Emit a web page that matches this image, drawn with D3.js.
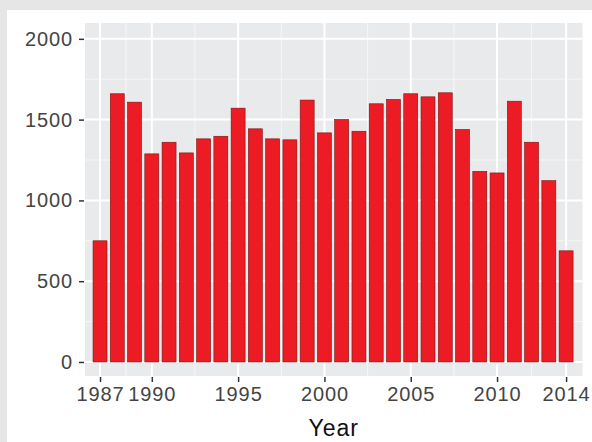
<!DOCTYPE html>
<html>
<head>
<meta charset="utf-8">
<script src="https://cdn.jsdelivr.net/npm/d3@7"></script>
<style>
  html, body { margin: 0; padding: 0; background: #e6e6e6; }
  svg { display: block; }
  .tick text { font-family: "Liberation Sans", Arial, sans-serif; }
</style>
</head>
<body>
<script>
// counts per year
var years = d3.range(1987, 2015);
var counts = [750, 1660, 1608, 1288, 1360, 1294, 1381, 1397, 1571, 1443,
              1381, 1375, 1621, 1418, 1501, 1428, 1598, 1625, 1660, 1641,
              1666, 1439, 1180, 1170, 1614, 1360, 1122, 688];
var xBreaks = [1987, 1990, 1995, 2000, 2005, 2010, 2014];
var xMinor = [1988.5, 1992.5, 1997.5, 2002.5, 2007.5, 2012];
var yBreaks = [0, 500, 1000, 1500, 2000];
var yMinor = [250, 750, 1250, 1750];

var data = years.map(function (y, i) { return { year: y, n: counts[i] }; });

var w = 592, h = 442,
    panel = { left: 85, right: 582.5, top: 23, bottom: 376 };

var svg = d3.select("body").append("svg")
    .attr("width", w)
    .attr("height", h);

// white plot area inside the grey frame
svg.append("rect")
    .attr("x", 7).attr("y", 10)
    .attr("width", w - 7).attr("height", h - 10)
    .attr("fill", "#ffffff");

var x = d3.scaleLinear().domain([1986.13, 2014.95]).range([panel.left, panel.right]);
var y = d3.scaleLinear().domain([-86.8, 2098]).range([panel.bottom, panel.top]);
var barW = (x(1988) - x(1987)) * 0.81;

/* panel background and grid */
svg.append("rect")
    .attr("x", panel.left).attr("y", panel.top)
    .attr("width", panel.right - panel.left)
    .attr("height", panel.bottom - panel.top)
    .attr("fill", "#e9eaec");

var grid = svg.append("g");
grid.selectAll("line.ymin").data(yMinor).enter().append("line")
    .attr("x1", panel.left).attr("x2", panel.right)
    .attr("y1", function (d) { return y(d); }).attr("y2", function (d) { return y(d); })
    .attr("stroke", "#f6f6f7").attr("stroke-width", 1);
grid.selectAll("line.xmin").data(xMinor).enter().append("line")
    .attr("y1", panel.top).attr("y2", panel.bottom)
    .attr("x1", function (d) { return x(d); }).attr("x2", function (d) { return x(d); })
    .attr("stroke", "#f6f6f7").attr("stroke-width", 1);
grid.selectAll("line.ymaj").data(yBreaks).enter().append("line")
    .attr("x1", panel.left).attr("x2", panel.right)
    .attr("y1", function (d) { return y(d); }).attr("y2", function (d) { return y(d); })
    .attr("stroke", "#ffffff").attr("stroke-width", 2);
grid.selectAll("line.xmaj").data(xBreaks).enter().append("line")
    .attr("y1", panel.top).attr("y2", panel.bottom)
    .attr("x1", function (d) { return x(d); }).attr("x2", function (d) { return x(d); })
    .attr("stroke", "#ffffff").attr("stroke-width", 2);

/* bars */
svg.append("g").selectAll("rect")
    .data(data)
  .enter().append("rect")
    .attr("x", function (d) { return x(d.year) - barW / 2; })
    .attr("y", function (d) { return y(d.n); })
    .attr("width", barW)
    .attr("height", function (d) { return y(0) - y(d.n); })
    .attr("fill", "#ed1c24")
    .attr("stroke", "#7a1414")
    .attr("stroke-width", 0.6);

/* axes */
var yAxis = svg.append("g")
    .attr("transform", "translate(" + (panel.left - 1) + ",0)")
    .call(d3.axisLeft(y).tickValues(yBreaks).tickSize(5).tickPadding(6).tickFormat(d3.format("d")));
var xAxis = svg.append("g")
    .attr("transform", "translate(0," + (panel.bottom + 1) + ")")
    .call(d3.axisBottom(x).tickValues(xBreaks).tickSize(5).tickPadding(5).tickFormat(d3.format("d")));

[yAxis, xAxis].forEach(function (a) {
  a.select(".domain").remove();
  a.selectAll(".tick line").attr("stroke", "#333333").attr("stroke-width", 1.5);
  a.selectAll(".tick text")
      .attr("fill", "#444444")
      .style("font-size", "20px")
      .style("letter-spacing", "0.9px");
});

svg.append("text")
    .attr("x", (panel.left + panel.right) / 2)
    .attr("y", 436)
    .attr("text-anchor", "middle")
    .attr("fill", "#111111")
    .style("font-family", "'Liberation Sans', Arial, sans-serif")
    .style("font-size", "23px")
    .style("letter-spacing", "1px")
    .text("Year");
</script>
</body>
</html>
